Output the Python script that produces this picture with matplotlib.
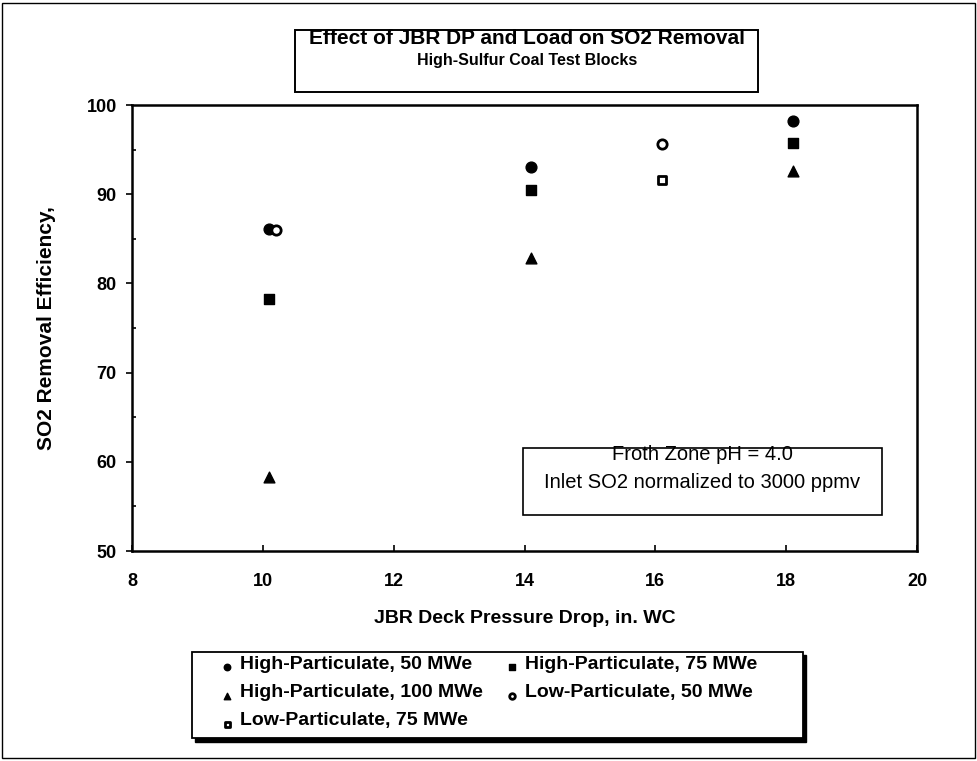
import matplotlib
matplotlib.use("Agg")
import matplotlib.pyplot as plt
from matplotlib.patches import Rectangle
from matplotlib.ticker import MultipleLocator

plt.rcParams['font.family'] = ['Liberation Sans', 'DejaVu Sans']

# SO2 removal vs JBR deck pressure drop, high-sulfur coal test blocks
hp50_dp = [10.1, 14.1, 18.1]
hp50_eff = [86.1, 93.1, 98.2]
hp75_dp = [10.1, 14.1, 18.1]
hp75_eff = [78.3, 90.5, 95.7]
hp100_dp = [10.1, 14.1, 18.1]
hp100_eff = [58.3, 82.8, 92.6]
lp50_dp = [10.2, 16.1]
lp50_eff = [86.0, 95.6]
lp75_dp = [16.1]
lp75_eff = [91.6]

W, H = 977, 761
fig = plt.figure(figsize=(W / 100, H / 100), dpi=100)


def px_box(x0, y0, x1, y1, lw=1.0, fill=False, color='white', z=1):
    """Rectangle given in pixel coordinates (origin top-left)."""
    r = Rectangle((x0 / W, 1 - y1 / H), (x1 - x0) / W, (y1 - y0) / H,
                  transform=fig.transFigure, fill=fill, facecolor=color,
                  edgecolor='black', linewidth=lw, zorder=z)
    fig.add_artist(r)
    return r


ax = fig.add_axes([132 / W, 1 - 551 / H, (917 - 132) / W, (551 - 105) / H])

s = 60
ax.scatter(hp50_dp, hp50_eff, s=s, marker='o', color='black', label='High-Particulate, 50 MWe')
ax.scatter(hp75_dp, hp75_eff, s=s * 0.8, marker='s', color='black', label='High-Particulate, 75 MWe')
ax.scatter(hp100_dp, hp100_eff, s=s, marker='^', color='black', label='High-Particulate, 100 MWe')
ax.scatter(lp50_dp, lp50_eff, s=s * 0.75, marker='o', facecolor='white', edgecolor='black',
           linewidth=2, label='Low-Particulate, 50 MWe')
ax.scatter(lp75_dp, lp75_eff, s=s * 0.6, marker='s', facecolor='white', edgecolor='black',
           linewidth=2, label='Low-Particulate, 75 MWe')

ax.set_xlim(8, 20)
ax.set_ylim(50, 100)
ax.xaxis.set_major_locator(MultipleLocator(2))
ax.yaxis.set_major_locator(MultipleLocator(10))
ax.yaxis.set_minor_locator(MultipleLocator(5))
ax.tick_params(axis='x', direction='in', length=4, width=1.2, pad=15.5, labelsize=13)
ax.tick_params(axis='y', which='major', direction='out', length=4, width=1.2, pad=7,
               labelsize=13)
ax.tick_params(axis='y', which='minor', direction='in', length=3, width=1.2)
for lab in ax.get_xticklabels() + ax.get_yticklabels():
    lab.set_fontweight('bold')
for sp in ax.spines.values():
    sp.set_linewidth(1.8)

ax.set_xlabel('JBR Deck Pressure Drop, in. WC', fontsize=14, fontweight='bold', labelpad=15)
ax.set_ylabel('SO2 Removal Efficiency,', fontsize=15, fontweight='bold', labelpad=22)

# title block
px_box(295, 30, 758, 92, lw=1.4)
fig.text(527 / W, 1 - 38 / H, 'Effect of JBR DP and Load on SO2 Removal',
         ha='center', va='center', fontsize=15, fontweight='bold')
fig.text(527 / W, 1 - 60 / H, 'High-Sulfur Coal Test Blocks',
         ha='center', va='center', fontsize=11.5, fontweight='bold')

# test conditions note
px_box(523, 448, 882, 515, lw=1.2)
fig.text(702 / W, 1 - 455 / H, 'Froth Zone pH = 4.0', ha='center', va='center', fontsize=14.5)
fig.text(702 / W, 1 - 482 / H, 'Inlet SO2 normalized to 3000 ppmv', ha='center',
         va='center', fontsize=14.5)

# legend frame with a solid drop shadow
px_box(195, 655, 806, 742, lw=1.0, fill=True, color='black', z=2)
px_box(192, 652, 803, 738, lw=1.3, fill=True, color='white', z=3)

# legend, two columns filled row by row
handles, labels = ax.get_legend_handles_labels()
order = [0, 2, 4, 1, 3]
leg = fig.legend([handles[i] for i in order], [labels[i] for i in order],
                 loc='upper left', ncol=2, frameon=False,
                 bbox_to_anchor=(222 / W, 1 - 655 / H),
                 prop={'weight': 'bold', 'size': 14}, markerscale=0.6,
                 scatteryoffsets=[0.1], scatterpoints=1,
                 handlelength=0.5, handletextpad=0.45, labelspacing=0.55,
                 columnspacing=1.2, borderaxespad=0, borderpad=0)
leg.set_zorder(4)

# outer frame
px_box(2, 3, 975, 758, lw=1.0)

fig.savefig('out.png', dpi=100)
